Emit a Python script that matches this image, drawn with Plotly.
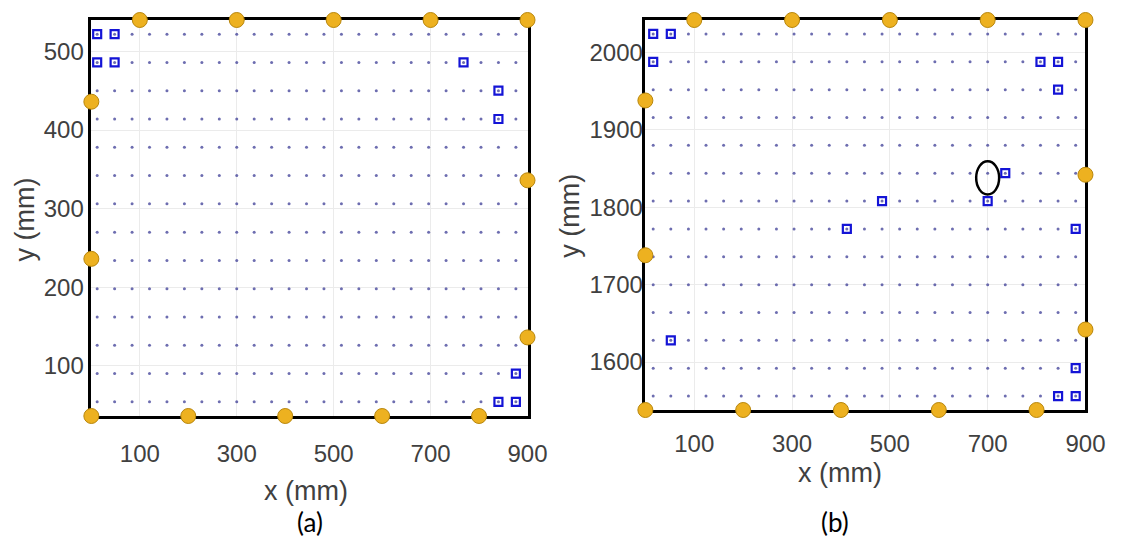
import plotly.graph_objects as go

# ---------------- data ----------------
# sensor grid, panel (a)
grid_x_a = [12, 48, 84, 120, 156, 192, 228, 264, 300, 336, 372, 408, 444, 480,
            516, 552, 588, 624, 660, 696, 732, 768, 804, 840, 876]
grid_y_a = [54, 90, 126, 162, 198, 234, 270, 306, 342, 378, 414, 450, 486, 522]
# sensor grid, panel (b)
grid_x_b = [16, 52, 88, 124, 160, 196, 232, 268, 304, 340, 376, 412, 448, 484,
            520, 556, 592, 628, 664, 700, 736, 772, 808, 844, 880]
grid_y_b = [1556, 1592, 1628, 1664, 1700, 1736, 1772, 1808, 1844, 1880, 1916,
            1952, 1988, 2024]

# active sensors (blue squares)
act_x_a = [12, 48, 12, 48, 768, 840, 840, 840, 876, 876]
act_y_a = [522, 522, 486, 486, 486, 450, 414, 54, 54, 90]
act_x_b = [16, 52, 16, 808, 844, 844, 736, 700, 484, 880, 412, 52, 880, 844, 880]
act_y_b = [2024, 2024, 1988, 1988, 1988, 1952, 1844, 1808, 1808, 1772, 1772,
           1628, 1592, 1556, 1556]

# boundary transducers (orange circles)
edge_x_a = [0, 200, 400, 600, 800, 900, 900, 900, 100, 300, 500, 700, 0, 0]
edge_y_a = [36, 36, 36, 36, 36, 136, 336, 540, 540, 540, 540, 540, 236, 436]
edge_x_b = [0, 200, 400, 600, 800, 900, 900, 900, 100, 300, 500, 700, 0, 0]
edge_y_b = [1538, 1538, 1538, 1538, 1538, 1642, 1842, 2042, 2042, 2042, 2042,
            2042, 1738, 1938]

# located defect (ellipse) in panel (b)
defect_x, defect_y = 700, 1838
defect_rx, defect_ry = 23.5, 21.5

x_ticks = [100, 300, 500, 700, 900]
y_ticks_a = [100, 200, 300, 400, 500]
y_ticks_b = [1600, 1700, 1800, 1900, 2000]

x_range = [0, 900]
y_range_a = [36, 540]
y_range_b = [1538, 2042]

# ---------------- styles ----------------
W, H = 1131, 546
DOT = dict(symbol="circle", size=3, color="rgba(60,60,150,0.75)")
SQ = dict(symbol="square-open", size=8, color="#1414d6", line=dict(width=2.2, color="#1414d6"))
CIRC = dict(symbol="circle", size=15, color="#EDB120", line=dict(width=1, color="#b8860b"))
TXT = "#404040"
FONT = "Arial"

fig = go.Figure()


def grid_points(xs, ys):
    px, py = [], []
    for yv in ys:
        for xv in xs:
            px.append(xv)
            py.append(yv)
    return px, py


for xs, ys, ax, ay, ex, ey, xa, ya in [
    (grid_x_a, grid_y_a, act_x_a, act_y_a, edge_x_a, edge_y_a, "x", "y"),
    (grid_x_b, grid_y_b, act_x_b, act_y_b, edge_x_b, edge_y_b, "x2", "y2"),
]:
    gx, gy = grid_points(xs, ys)
    fig.add_trace(go.Scatter(x=gx, y=gy, mode="markers", marker=DOT,
                             xaxis=xa, yaxis=ya, hoverinfo="skip"))
    fig.add_trace(go.Scatter(x=ax, y=ay, mode="markers", marker=SQ,
                             xaxis=xa, yaxis=ya, cliponaxis=False))
    fig.add_trace(go.Scatter(x=ex, y=ey, mode="markers", marker=CIRC,
                             xaxis=xa, yaxis=ya, cliponaxis=False))

fig.add_shape(type="circle", xref="x2", yref="y2",
              x0=defect_x - defect_rx, x1=defect_x + defect_rx,
              y0=defect_y - defect_ry, y1=defect_y + defect_ry,
              line=dict(color="black", width=2.5), layer="above")

# panel boxes in pixel terms
box_a = dict(l=93, r=537, t=20, b=416)
box_b = dict(l=657, r=1105, t=20, b=410)


def dom_x(b):
    return [b["l"] / W, b["r"] / W]


def dom_y(b):
    return [1 - b["b"] / H, 1 - b["t"] / H]


axis_common = dict(showline=True, linecolor="black", linewidth=2.5, mirror=True,
                   showgrid=True, gridcolor="#ebebeb", gridwidth=1, zeroline=False,
                   ticks="", layer="below traces",
                   tickfont=dict(family=FONT, size=24, color=TXT))

fig.update_layout(
    width=W, height=H, margin=dict(l=0, r=0, t=0, b=0),
    paper_bgcolor="white", plot_bgcolor="white", showlegend=False,
    xaxis=dict(domain=dom_x(box_a), range=x_range, tickvals=x_ticks, anchor="y",
               ticklabelstandoff=14, **axis_common),
    yaxis=dict(domain=dom_y(box_a), range=y_range_a, tickvals=y_ticks_a, anchor="x",
               ticklabelstandoff=0, **axis_common),
    xaxis2=dict(domain=dom_x(box_b), range=x_range, tickvals=x_ticks, anchor="y2",
                ticklabelstandoff=10, **axis_common),
    yaxis2=dict(domain=dom_y(box_b), range=y_range_b, tickvals=y_ticks_b, anchor="x2",
                ticklabelstandoff=-5, **axis_common),
)


def label(text, x, y, size, angle=0, color=TXT, family=FONT):
    fig.add_annotation(text=text, x=x / W, y=1 - y / H, xref="paper", yref="paper",
                       showarrow=False, textangle=angle, xanchor="center",
                       yanchor="middle", font=dict(family=family, size=size, color=color))


label("x (mm)", 312, 491, 27)
label("x (mm)", 855, 473, 27)
label("y (mm)", 25, 220, 27, angle=-90)
label("y (mm)", 580, 216, 27, angle=-90)
label("(a)", 316, 522, 26, color="black", family="Lato, Open Sans, sans-serif")
label("(b)", 850, 522, 26, color="black", family="Lato, Open Sans, sans-serif")

fig.write_html("out.html")
